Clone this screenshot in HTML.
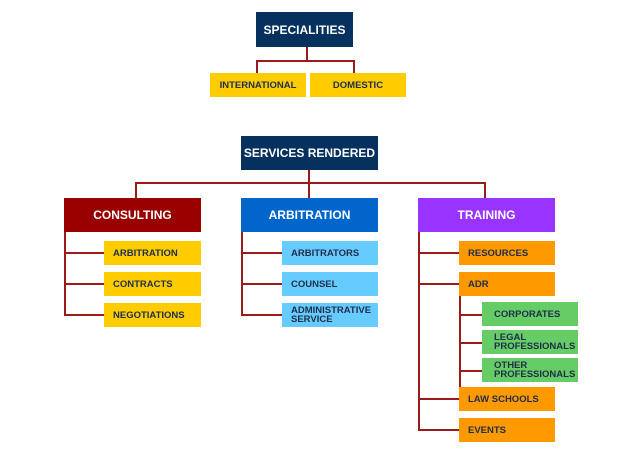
<!DOCTYPE html>
<html><head><style>
body{margin:0;width:618px;height:475px;background:#fff;position:relative;font-family:"Liberation Sans",sans-serif;overflow:hidden}
.b{position:absolute;display:flex;align-items:center;font-weight:bold;box-sizing:border-box}
.h{color:#fff;font-size:12px;justify-content:center}
.s{font-size:9.5px;color:#1f2d4a;padding-left:9px;line-height:9px}
.c{justify-content:center}
.l{position:absolute;background:#9b1b1b}
</style></head><body>
<div class="l" style="left:306px;top:47px;width:2px;height:14px"></div>
<div class="l" style="left:256px;top:60px;width:99px;height:2px"></div>
<div class="l" style="left:256px;top:60px;width:2px;height:13px"></div>
<div class="l" style="left:353px;top:60px;width:2px;height:13px"></div>

<div class="l" style="left:308px;top:170px;width:2px;height:28px"></div>
<div class="l" style="left:135px;top:182px;width:351px;height:2px"></div>
<div class="l" style="left:135px;top:182px;width:2px;height:16px"></div>
<div class="l" style="left:484px;top:182px;width:2px;height:16px"></div>

<div class="l" style="left:64px;top:232px;width:2px;height:84px"></div>
<div class="l" style="left:64px;top:252px;width:40px;height:2px"></div>
<div class="l" style="left:64px;top:283px;width:40px;height:2px"></div>
<div class="l" style="left:64px;top:314px;width:40px;height:2px"></div>

<div class="l" style="left:241px;top:232px;width:2px;height:84px"></div>
<div class="l" style="left:241px;top:252px;width:41px;height:2px"></div>
<div class="l" style="left:241px;top:283px;width:41px;height:2px"></div>
<div class="l" style="left:241px;top:314px;width:41px;height:2px"></div>

<div class="l" style="left:418px;top:232px;width:2px;height:199px"></div>
<div class="l" style="left:418px;top:252px;width:41px;height:2px"></div>
<div class="l" style="left:418px;top:283px;width:41px;height:2px"></div>
<div class="l" style="left:418px;top:398px;width:41px;height:2px"></div>
<div class="l" style="left:418px;top:429px;width:41px;height:2px"></div>
<div class="l" style="left:459px;top:295px;width:2px;height:92px"></div>
<div class="l" style="left:459px;top:314px;width:23px;height:2px"></div>
<div class="l" style="left:459px;top:342px;width:23px;height:2px"></div>
<div class="l" style="left:459px;top:370px;width:23px;height:2px"></div>

<div class="b h" style="left:256px;top:12px;width:97px;height:35px;background:#06315f">SPECIALITIES</div>
<div class="b s c" style="left:210px;top:73px;width:96px;height:24px;background:#ffcc00;padding:0">INTERNATIONAL</div>
<div class="b s c" style="left:310px;top:73px;width:96px;height:24px;background:#ffcc00;padding:0">DOMESTIC</div>

<div class="b h" style="left:241px;top:136px;width:137px;height:34px;background:#06315f">SERVICES RENDERED</div>
<div class="b h" style="left:64px;top:198px;width:137px;height:34px;background:#990000">CONSULTING</div>
<div class="b h" style="left:241px;top:198px;width:137px;height:34px;background:#0066cc">ARBITRATION</div>
<div class="b h" style="left:418px;top:198px;width:137px;height:34px;background:#9933ff">TRAINING</div>

<div class="b s" style="left:104px;top:241px;width:97px;height:24px;background:#ffcc00">ARBITRATION</div>
<div class="b s" style="left:104px;top:272px;width:97px;height:24px;background:#ffcc00">CONTRACTS</div>
<div class="b s" style="left:104px;top:303px;width:97px;height:24px;background:#ffcc00">NEGOTIATIONS</div>

<div class="b s" style="left:282px;top:241px;width:96px;height:24px;background:#66ccff">ARBITRATORS</div>
<div class="b s" style="left:282px;top:272px;width:96px;height:24px;background:#66ccff">COUNSEL</div>
<div class="b s" style="left:282px;top:303px;width:96px;height:24px;background:#66ccff">ADMINISTRATIVE<br>SERVICE</div>

<div class="b s" style="left:459px;top:241px;width:96px;height:24px;background:#ff9900">RESOURCES</div>
<div class="b s" style="left:459px;top:272px;width:96px;height:24px;background:#ff9900">ADR</div>
<div class="b s" style="left:482px;top:302px;width:96px;height:24px;background:#66cc66;padding-left:12px">CORPORATES</div>
<div class="b s" style="left:482px;top:330px;width:96px;height:24px;background:#66cc66;padding-left:12px">LEGAL<br>PROFESSIONALS</div>
<div class="b s" style="left:482px;top:358px;width:96px;height:24px;background:#66cc66;padding-left:12px">OTHER<br>PROFESSIONALS</div>
<div class="b s" style="left:459px;top:387px;width:96px;height:24px;background:#ff9900">LAW SCHOOLS</div>
<div class="b s" style="left:459px;top:418px;width:96px;height:24px;background:#ff9900">EVENTS</div>
</body></html>
